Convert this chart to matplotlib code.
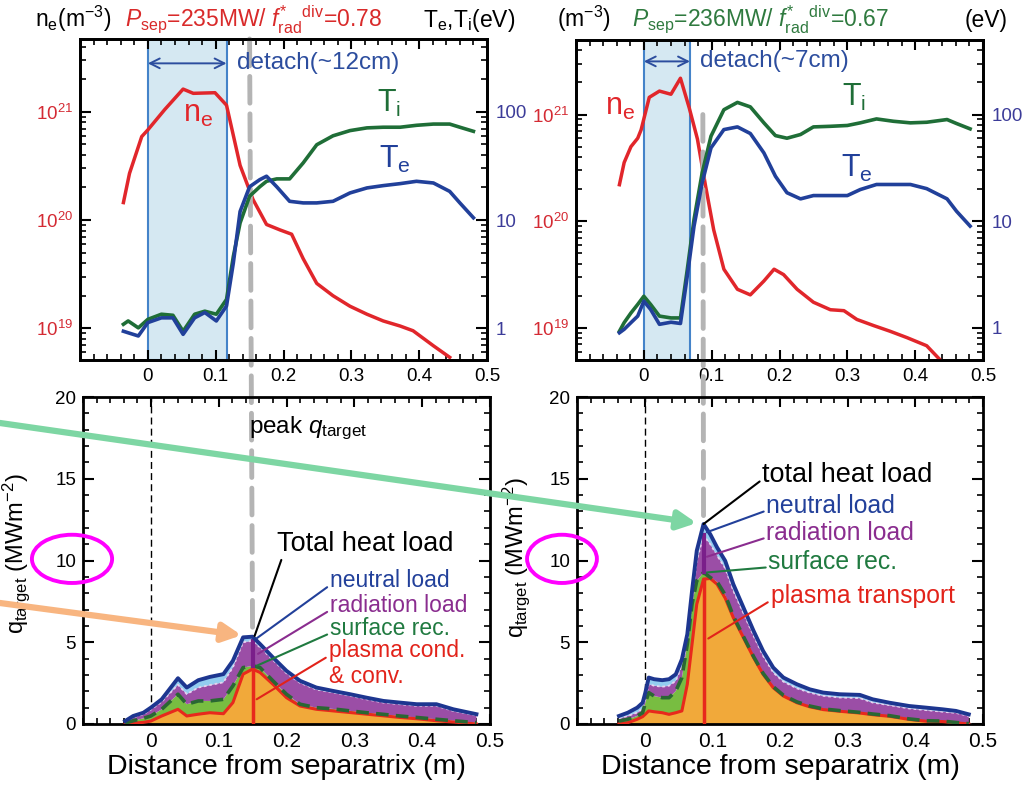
import numpy as np
import matplotlib
matplotlib.use("Agg")
import matplotlib.pyplot as plt
import matplotlib.transforms as mtransforms
from matplotlib.patches import Ellipse, ConnectionPatch
from matplotlib.ticker import MultipleLocator, FixedLocator, FuncFormatter

plt.rcParams['font.family'] = ['Liberation Sans', 'DejaVu Sans']
plt.rcParams['mathtext.fontset'] = 'custom'
plt.rcParams['mathtext.rm'] = 'Liberation Sans'
plt.rcParams['mathtext.it'] = 'Liberation Sans:italic'
plt.rcParams['mathtext.bf'] = 'Liberation Sans:bold'
plt.rcParams['axes.linewidth'] = 2.0
plt.rcParams['xtick.direction'] = 'in'
plt.rcParams['ytick.direction'] = 'in'

# ---------------- case A : Psep=235MW, f*rad=0.78 ----------------
x_ne_a = [-0.036, -0.027, -0.009, 0.0, 0.025, 0.052, 0.067, 0.099, 0.116, 0.136,
          0.155, 0.175, 0.195, 0.212, 0.229, 0.249, 0.273, 0.298, 0.323, 0.347,
          0.372, 0.391, 0.421, 0.445]
ne_a = [1.45e20, 2.7e20, 5.9e20, 6.8e20, 1.05e21, 1.62e21, 1.48e21, 1.5e21, 1.15e21, 3.2e20,
        1.55e20, 9.1e19, 8.1e19, 7.4e19, 4.4e19, 2.6e19, 2.0e19, 1.6e19, 1.35e19, 1.17e19,
        1.05e19, 9.5e18, 6.9e18, 5.4e18]
x_T_a = [-0.036, -0.029, -0.014, 0.0, 0.020, 0.037, 0.052, 0.069, 0.084, 0.101,
         0.116, 0.126, 0.136, 0.150, 0.165, 0.175, 0.190, 0.209, 0.229, 0.249,
         0.273, 0.298, 0.323, 0.347, 0.372, 0.396, 0.421, 0.445, 0.460, 0.480]
Ti_a = [1.09, 1.17, 1.01, 1.21, 1.35, 1.32, 0.94, 1.35, 1.44, 1.35,
        1.85, 4.6, 9.4, 16.6, 20.3, 22.8, 24, 24, 33.7, 49.6,
        60, 67, 71, 72, 72, 75, 77, 77, 72, 66]
Te_a = [0.94, 0.91, 0.85, 1.13, 1.25, 1.25, 0.88, 1.25, 1.40, 1.17,
        1.61, 4.0, 12, 20.3, 23.6, 25.4, 20.3, 14.9, 14.4, 14.4,
        14.9, 17.8, 19.8, 20.8, 21.7, 22.8, 22, 18.4, 14.4, 10.5]
detach_a = 0.116

xq_a = [-0.038, -0.026, -0.011, 0.0, 0.016, 0.040, 0.053, 0.070, 0.087, 0.107,
        0.121, 0.136, 0.150, 0.161, 0.180, 0.200, 0.220, 0.244, 0.269, 0.294,
        0.318, 0.343, 0.367, 0.392, 0.421, 0.446, 0.480]
plasma_a = [0.0, 0.05, 0.1, 0.18, 0.49, 0.90, 0.49, 0.60, 0.69, 0.63,
            1.31, 3.05, 3.36, 3.15, 2.43, 1.61, 1.10, 0.90, 0.80, 0.70,
            0.60, 0.50, 0.40, 0.32, 0.20, 0.12, 0.0]
surface_a = [0.05, 0.15, 0.25, 0.31, 0.41, 0.92, 0.72, 0.81, 0.72, 0.88,
             1.02, 0.40, 0.20, 0.30, 0.21, 0.21, 0.11, 0.10, 0.12, 0.10,
             0.09, 0.09, 0.09, 0.08, 0.09, 0.08, 0.08]
radiation_a = [0.09, 0.21, 0.24, 0.39, 0.46, 0.58, 0.62, 0.82, 0.97, 1.04,
               1.14, 1.55, 1.53, 1.24, 1.28, 1.28, 1.31, 1.11, 1.00, 0.92,
               0.82, 0.72, 0.72, 0.71, 0.82, 0.60, 0.44]
neutral_a = [0.04, 0.08, 0.10, 0.12, 0.15, 0.40, 0.40, 0.45, 0.50, 0.50,
             0.40, 0.30, 0.25, 0.20, 0.15, 0.15, 0.12, 0.12, 0.10, 0.10,
             0.10, 0.10, 0.10, 0.10, 0.10, 0.10, 0.08]

# ---------------- case B : Psep=236MW, f*rad=0.67 ----------------
x_ne_b = [-0.036, -0.029, -0.019, -0.009, -0.004, 0.008, 0.023, 0.040, 0.054, 0.067,
          0.079, 0.091, 0.103, 0.118, 0.138, 0.157, 0.177, 0.192, 0.206, 0.226,
          0.250, 0.275, 0.295, 0.314, 0.339, 0.363, 0.388, 0.417, 0.437]
ne_b = [2.2e20, 3.55e20, 5.0e20, 6.0e20, 7.2e20, 1.45e21, 1.66e21, 1.55e21, 2.19e21, 1.15e21,
        5.9e20, 2.14e20, 8.3e19, 3.55e19, 2.3e19, 2.04e19, 2.75e19, 3.55e19, 3.16e19, 2.3e19,
        1.74e19, 1.48e19, 1.45e19, 1.2e19, 1.05e19, 9.3e18, 8.1e18, 6.8e18, 5.0e18]
x_T_b = [-0.036, -0.029, -0.019, -0.009, 0.0, 0.010, 0.023, 0.040, 0.054, 0.064,
         0.074, 0.086, 0.099, 0.118, 0.138, 0.157, 0.177, 0.194, 0.211, 0.231,
         0.250, 0.275, 0.300, 0.319, 0.343, 0.368, 0.393, 0.417, 0.447, 0.461, 0.481]
Ti_b = [0.93, 1.12, 1.38, 1.66, 1.98, 1.66, 1.29, 1.24, 1.24, 3.5,
        10.4, 28.4, 62.7, 111, 130, 118, 83.6, 63.5, 60, 65,
        76.6, 77.6, 79, 83.6, 91, 86.5, 83.6, 84.7, 89.8, 82.4, 73.4]
Te_b = [0.90, 0.97, 1.12, 1.29, 1.78, 1.49, 1.08, 1.13, 1.10, 3.05,
        9.0, 22.9, 48.7, 72.3, 76.6, 66.4, 43.7, 26.4, 18.5, 16.2,
        17.4, 17.4, 17.4, 19.8, 22.1, 22.1, 22.1, 20.2, 16.2, 12.4, 9.0]
detach_b = 0.068

xq_b = [-0.038, -0.025, -0.011, -0.003, 0.001, 0.006, 0.014, 0.026, 0.036, 0.046,
        0.055, 0.063, 0.070, 0.077, 0.087, 0.097, 0.107, 0.119, 0.131, 0.146,
        0.161, 0.175, 0.190, 0.205, 0.225, 0.244, 0.264, 0.288, 0.318, 0.337,
        0.362, 0.391, 0.416, 0.440, 0.460, 0.479]
plasma_b = [0.0, 0.08, 0.29, 0.45, 0.6, 0.8, 0.75, 0.69, 0.59, 0.69,
            0.8, 2.43, 4.88, 7.33, 8.86, 8.9, 8.55, 7.7, 6.5, 5.28,
            4.06, 3.04, 2.22, 1.71, 1.30, 1.05, 0.88, 0.78, 0.67, 0.57,
            0.47, 0.28, 0.17, 0.15, 0.07, 0.0]
surface_b = [0.18, 0.21, 0.20, 0.24, 0.70, 1.12, 0.96, 0.92, 1.02, 1.33,
             2.04, 2.45, 2.45, 1.43, 0.41, 0.06, 0.15, 0.20, 0.10, 0.07,
             0.06, 0.06, 0.06, 0.05, 0.05, 0.05, 0.04, 0.04, 0.04, 0.04,
             0.04, 0.03, 0.03, 0.03, 0.02, 0.02]
radiation_b = [0.16, 0.20, 0.21, 0.26, 0.22, 0.52, 0.63, 0.67, 0.73, 0.62,
               0.72, 0.16, 0.31, 1.24, 2.26, 2.04, 1.60, 1.63, 1.55, 1.42,
               1.27, 1.07, 0.87, 0.83, 0.83, 0.82, 0.80, 0.80, 0.87, 0.70,
               0.64, 0.64, 0.65, 0.57, 0.59, 0.47]
neutral_b = [0.15, 0.20, 0.30, 0.35, 0.40, 0.40, 0.40, 0.40, 0.40, 0.40,
             0.40, 0.45, 0.50, 0.60, 0.70, 0.60, 0.50, 0.45, 0.40, 0.35,
             0.30, 0.30, 0.30, 0.25, 0.25, 0.20, 0.20, 0.20, 0.20, 0.20,
             0.15, 0.15, 0.15, 0.15, 0.12, 0.10]

x_ticks = [0, 0.1, 0.2, 0.3, 0.4, 0.5]

RED = "#e1262b"
GREEN = "#1f6e37"
BLUE = "#21409a"
NE_LAB = "#d42a33"
T_LAB = "#3c3c99"
BOX_FC = "#d5e8f2"
BOX_EC = "#4483c9"
DET = "#2c4d9e"
GRAY = "#b4b4b4"
ORANGE = "#f1a93a"
LGREEN = "#78bd41"
PURPLE = "#9b4ea6"
LBLUE = "#93cdf0"
NAVY = "#1d3690"
PRED = "#e8291c"
DGREEN = "#2a6733"

W, H = 1029, 785
fig = plt.figure(figsize=(W / 100, H / 100), dpi=100)


def px_axes(l, t, r, b):
    return fig.add_axes([l / W, 1 - b / H, (r - l) / W, (b - t) / H])


def ftext(xp, yp, s, **kw):
    fig.text(xp / W, 1 - yp / H, s, **kw)


gfmt = FuncFormatter(lambda v, p: f"{v:g}")


def profile_panel(ax, x_ne, ne, x_T, Ti, Te, detach, ylim):
    ax.set_xlim(-0.1, 0.5)
    ax.set_yscale('log')
    ax.set_ylim(ylim)
    axT = ax.twinx()
    axT.set_yscale('log')
    axT.set_ylim(ylim[0] / 1e19, ylim[1] / 1e19)
    for sp in axT.spines.values():
        sp.set_linewidth(2.0)

    ax.axvspan(0, detach, facecolor=BOX_FC, edgecolor=BOX_EC, lw=1.5, zorder=1)
    ax.plot(x_ne, ne, color=RED, lw=2.5, zorder=3)
    axT.plot(x_T, Ti, color=GREEN, lw=2.6, zorder=3)
    axT.plot(x_T, Te, color=BLUE, lw=2.6, zorder=3)

    ax.xaxis.set_major_locator(FixedLocator(x_ticks))
    ax.xaxis.set_major_formatter(gfmt)
    ax.xaxis.set_minor_locator(MultipleLocator(0.02))
    ax.tick_params(axis='x', which='both', top=True, bottom=True)
    ax.tick_params(axis='x', which='major', length=7, width=1.5, labelsize=13.5, pad=6)
    ax.tick_params(axis='x', which='minor', length=4, width=1.2)
    ax.tick_params(axis='y', which='both', left=True, right=False)
    ax.tick_params(axis='y', which='major', length=8, width=1.5, labelsize=13.5,
                   labelcolor=NE_LAB, pad=5)
    ax.tick_params(axis='y', which='minor', length=4, width=1.2)
    axT.yaxis.set_major_formatter(gfmt)
    axT.tick_params(axis='y', which='major', length=8, width=1.5, labelsize=13.5,
                    labelcolor=T_LAB, pad=6)
    axT.tick_params(axis='y', which='minor', length=4, width=1.2)
    return axT


def heat_panel(ax, xq, plasma, surface, radiation, neutral):
    xq = np.array(xq)
    plasma, surface = np.array(plasma), np.array(surface)
    radiation, neutral = np.array(radiation), np.array(neutral)
    ax.set_xlim(-0.1, 0.5)
    ax.set_ylim(0, 20)
    ax.patch.set_visible(False)
    ax.axvline(0, color='k', lw=1.0, ls=(0, (5, 3)), zorder=1)
    ax.stackplot(xq, plasma, surface, radiation, neutral,
                 colors=[ORANGE, LGREEN, PURPLE, LBLUE], lw=0, zorder=2)
    surf_top = plasma + surface
    rad_top = surf_top + radiation
    total = rad_top + neutral
    ax.plot(xq, rad_top, color="#e6d3ef", lw=1.3, ls=(0, (1.5, 1.5)), zorder=3)
    ax.plot(xq, plasma, color=PRED, lw=2.2, zorder=3)
    ax.plot(xq, surf_top, color=DGREEN, lw=2.6, ls=(0, (3.5, 2)), zorder=4)
    ax.plot(xq, total, color=NAVY, lw=2.8, zorder=5)
    i = int(np.argmax(total))
    ax.plot([xq[i], xq[i]], [0, plasma[i]], color=PRED, lw=2.5, zorder=4)
    ax.plot([xq[i], xq[i]], [surf_top[i], rad_top[i]], color="#7a1f8a", lw=3, zorder=4)

    ax.xaxis.set_major_locator(FixedLocator(x_ticks))
    ax.xaxis.set_major_formatter(gfmt)
    ax.xaxis.set_minor_locator(MultipleLocator(0.02))
    ax.yaxis.set_major_locator(MultipleLocator(5))
    ax.yaxis.set_minor_locator(MultipleLocator(1))
    ax.tick_params(which='both', top=True, right=True)
    ax.tick_params(axis='x', which='major', length=7, width=1.5, labelsize=15, pad=6)
    ax.tick_params(axis='y', which='major', length=8, width=1.5, labelsize=13.5, pad=5)
    ax.tick_params(which='minor', length=4, width=1.2)
    ax.set_xlabel("Distance from separatrix (m)", fontsize=20.5, labelpad=2)
    ax.set_ylabel(r"q$_{\rm target}$ (MWm$^{-2}$)", fontsize=17)
    return xq[i], plasma[i], surf_top[i], rad_top[i], total[i]


# profile panels first, so the heat-load panels are drawn over the grey marker
ax_ta = px_axes(80, 39, 487, 360)
ax_tb = px_axes(576, 40, 983, 360)
axT_a = profile_panel(ax_ta, x_ne_a, ne_a, x_T_a, Ti_a, Te_a, detach_a, (5.1e18, 4.7e21))
axT_b = profile_panel(ax_tb, x_ne_b, ne_b, x_T_b, Ti_b, Te_b, detach_b, (5.0e18, 5.0e21))

ax_ba = px_axes(83, 397, 490, 724)
ax_bb = px_axes(577, 397, 983, 724)
pk_a = heat_panel(ax_ba, xq_a, plasma_a, surface_a, radiation_a, neutral_a)
pk_b = heat_panel(ax_bb, xq_b, plasma_b, surface_b, radiation_b, neutral_b)
ax_ba.yaxis.set_label_coords(-0.125, 0.52)
ax_bb.yaxis.set_label_coords(-0.112, 0.51)

# grey dashed marker of the peak heat-flux location
for axT, axb, pk, ystart in [(axT_a, ax_ba, pk_a, 470), (axT_b, ax_bb, pk_b, 100)]:
    con = ConnectionPatch(xyA=(pk[0], ystart), coordsA=axT.transData,
                          xyB=(pk[0], pk[4]), coordsB=axb.transData,
                          color=GRAY, lw=3.5, ls=(0, (5.5, 2.2)), zorder=2)
    con.set_clip_on(False)
    axT.add_artist(con)

# detachment width arrows and labels (T axis units, T = ne / 1e19)
for axT, w, lab, yarr in [(axT_a, detach_a, "detach(~12cm)", 280),
                          (axT_b, detach_b, "detach(~7cm)", 315)]:
    axT.annotate("", xy=(w, yarr), xytext=(0, yarr),
                 arrowprops=dict(arrowstyle='<->,head_length=0.7,head_width=0.35',
                                 color=DET, lw=1.4, shrinkA=0, shrinkB=0), zorder=5)
    axT.text(w + 0.015, yarr, lab, color=DET, fontsize=17.5, ha='left', va='center', zorder=5)

# curve labels in the profile panels
ax_ta.text(0.052, 8.1e20, r"n$_{\rm e}$", color=RED, fontsize=22, va='baseline', zorder=5)
axT_a.text(0.338, 100, r"T$_{\rm i}$", color=GREEN, fontsize=22, va='baseline')
axT_a.text(0.341, 30.5, r"T$_{\rm e}$", color=BLUE, fontsize=22, va='baseline')
ax_tb.text(-0.057, 1.0e21, r"n$_{\rm e}$", color=RED, fontsize=22, va='baseline', zorder=5)
axT_b.text(0.292, 121, r"T$_{\rm i}$", color=GREEN, fontsize=22, va='baseline')
axT_b.text(0.290, 26, r"T$_{\rm e}$", color=BLUE, fontsize=22, va='baseline')

# headers
HFS = 16.5
ftext(35, 27, r"n$_{\rm e}$(m$^{-3}$)", fontsize=HFS, va='baseline')
ftext(125, 27, r"$P_{\rm sep}$=235MW/ $f^{*}_{\rm rad}$$^{\rm div}$=0.78",
      color="#d92a2a", fontsize=HFS, va='baseline')
ftext(423, 27, r"T$_{\rm e}$,T$_{\rm i}$(eV)", fontsize=HFS, va='baseline')
ftext(557, 27, r"(m$^{-3}$)", fontsize=HFS, va='baseline')
ftext(632, 27, r"$P_{\rm sep}$=236MW/ $f^{*}_{\rm rad}$$^{\rm div}$=0.67",
      color="#2f7a3f", fontsize=HFS, va='baseline')
ftext(965, 27, "(eV)", fontsize=HFS, va='baseline')

ax_ba.text(0.232, 18.1, r"peak $q_{\rm target}$", fontsize=17.5, ha='center', va='center',
           zorder=6)


def label(ax, s, xy, xt, color, fs, rel=(0, 0.3)):
    ax.annotate(s, xy=xy, xytext=xt, color=color, fontsize=fs, ha='left', va='center',
                arrowprops=dict(arrowstyle='-', color=color, lw=1.5, shrinkA=0, shrinkB=0,
                                relpos=rel), zorder=7)


xp, pl, sf, rd, tt = pk_a
label(ax_ba, "Total heat load", (xp + 0.003, tt + 0.05), (0.186, 11.0), 'k', 19.5, rel=(0.03, 0.0))
label(ax_ba, "neutral load", (xp + 0.006, tt - 0.1), (0.264, 8.77), "#22409a", 16.5)
label(ax_ba, "radiation load", (xp + 0.008, rd - 0.8), (0.264, 7.24), "#8a2d8f", 16.5)
label(ax_ba, "surface rec.", (xp + 0.006, sf), (0.264, 5.83), "#207a40", 16.5)
label(ax_ba, "plasma cond.\n& conv.", (xp + 0.006, pl * 0.45), (0.262, 3.7), "#e2231a", 16.5,
      rel=(0, 0.65))

xp, pl, sf, rd, tt = pk_b
label(ax_bb, "total heat load", (xp, tt), (0.174, 15.2), 'k', 19.5, rel=(0, 0.35))
label(ax_bb, "neutral load", (xp + 0.005, tt - 0.5), (0.180, 13.35), "#22409a", 17.8)
label(ax_bb, "radiation load", (xp + 0.005, rd - 1.3), (0.180, 11.7), "#8a2d8f", 17.8)
label(ax_bb, "surface rec.", (xp + 0.005, sf), (0.183, 9.88), "#207a40", 17.8)
label(ax_bb, "plasma transport", (xp + 0.007, pl * 0.59), (0.186, 7.84), "#e2231a", 17.8)

# highlight arrows and circles
ax_bb.annotate("", xy=(pk_b[0], pk_b[4]), xycoords='data',
               xytext=(0, 1 - 423 / H), textcoords='figure fraction',
               arrowprops=dict(arrowstyle='-|>,head_length=1.1,head_width=0.55',
                               color="#7dd6a3", lw=4.5, shrinkA=0, shrinkB=5),
               annotation_clip=False, zorder=8)
ax_ba.annotate("", xy=(pk_a[0], pk_a[4]), xycoords='data',
               xytext=(0, 1 - 603 / H), textcoords='figure fraction',
               arrowprops=dict(arrowstyle='-|>,head_length=1.1,head_width=0.55',
                               color="#f8b580", lw=4.5, shrinkA=0, shrinkB=8),
               annotation_clip=False, zorder=8)

for ax, cx, w in [(ax_ba, -0.027, 0.197), (ax_bb, -0.037, 0.172)]:
    tr = mtransforms.blended_transform_factory(ax.transAxes, ax.transData)
    ax.add_patch(Ellipse((cx, 10.1), w, 2.95, transform=tr, fill=False,
                         edgecolor="#ff00ff", lw=2.8, clip_on=False, zorder=9))

fig.savefig("out.png", dpi=100)
